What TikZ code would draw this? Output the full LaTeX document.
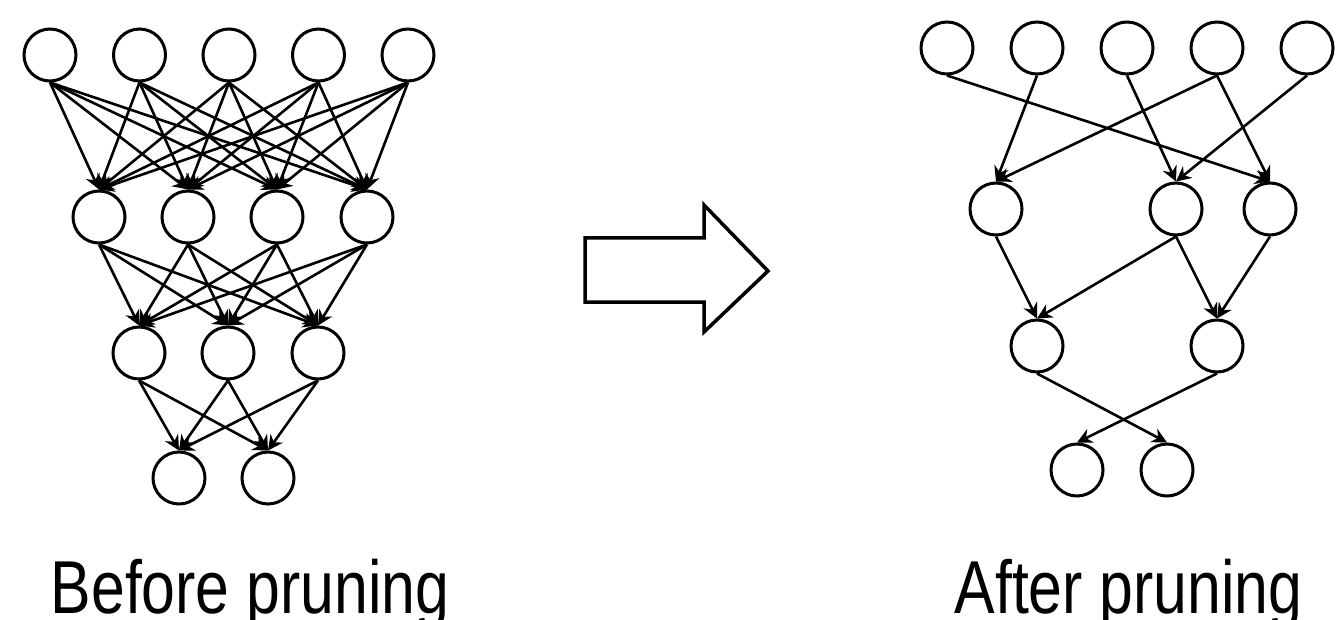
\documentclass[tikz,border=0pt]{standalone}
\usepackage{fontspec}
\newfontfamily\lblfont{Liberation Sans}[FakeStretch=0.81]
\usetikzlibrary{arrows.meta}
\tikzset{
  neuron/.style={circle,draw=black,line width=3pt,minimum size=52pt,inner sep=0pt,fill=white},
  conn/.style={draw=black,line width=2.6pt,-{Stealth[length=15pt,width=15pt,inset=5pt]}},
  caption/.style={font=\lblfont\fontsize{75}{80}\selectfont,anchor=base,inner sep=0pt},
  blockarrow/.style={draw=black,line width=3.5pt,line join=miter}
}
\begin{document}
\begin{tikzpicture}[x=1pt,y=-1pt]
\useasboundingbox (0,0) rectangle (1337,620);
% ---------- left network ----------
\foreach \i/\x in {1/50,2/139.5,3/229,4/318.5,5/408} \node[neuron] (La\i) at (\x,55) {};
\foreach \i/\x in {1/99,2/188,3/277,4/367} \node[neuron] (Lb\i) at (\x,217) {};
\foreach \i/\x in {1/139,2/228,3/318} \node[neuron] (Lc\i) at (\x,353) {};
\foreach \i/\x in {1/179,2/268} \node[neuron] (Ld\i) at (\x,478) {};
\foreach \i in {1,...,5} \foreach \j in {1,...,4} \draw[conn] (La\i.south) -- (Lb\j.north);
\foreach \i in {1,...,4} \foreach \j in {1,...,3} \draw[conn] (Lb\i.south) -- (Lc\j.north);
\foreach \i in {1,...,3} \foreach \j in {1,2} \draw[conn] (Lc\i.south) -- (Ld\j.north);
% ---------- right network ----------
\foreach \i/\x in {1/947,2/1037,3/1127,4/1217,5/1307} \node[neuron] (Ra\i) at (\x,48) {};
\foreach \i/\x in {1/996,2/1176,3/1270} \node[neuron] (Rb\i) at (\x,209) {};
\foreach \i/\x in {1/1037,2/1217} \node[neuron] (Rc\i) at (\x,346) {};
\foreach \i/\x in {1/1077,2/1167} \node[neuron] (Rd\i) at (\x,470) {};
\draw[conn] (Ra1.south) -- (Rb3.north);
\draw[conn] (Ra2.south) -- (Rb1.north);
\draw[conn] (Ra3.south) -- (Rb2.north);
\draw[conn] (Ra4.south) -- (Rb1.north);
\draw[conn] (Ra4.south) -- (Rb3.north);
\draw[conn] (Ra5.south) -- (Rb2.north);
\draw[conn] (Rb1.south) -- (Rc1.north);
\draw[conn] (Rb2.south) -- (Rc1.north);
\draw[conn] (Rb2.south) -- (Rc2.north);
\draw[conn] (Rb3.south) -- (Rc2.north);
\draw[conn] (Rc1.south) -- (Rd2.north);
\draw[conn] (Rc2.south) -- (Rd1.north);
% ---------- block arrow ----------
\draw[blockarrow] (585,238) -- (704,238) -- (704,205) -- (768,271) -- (704,332) -- (704,302) -- (585,302) -- cycle;
% ---------- captions ----------
\node[caption] (capL) at (250,613) {Before pruning};
\node[caption] (capR) at (1128.5,613) {After pruning};
\end{tikzpicture}
\end{document}
